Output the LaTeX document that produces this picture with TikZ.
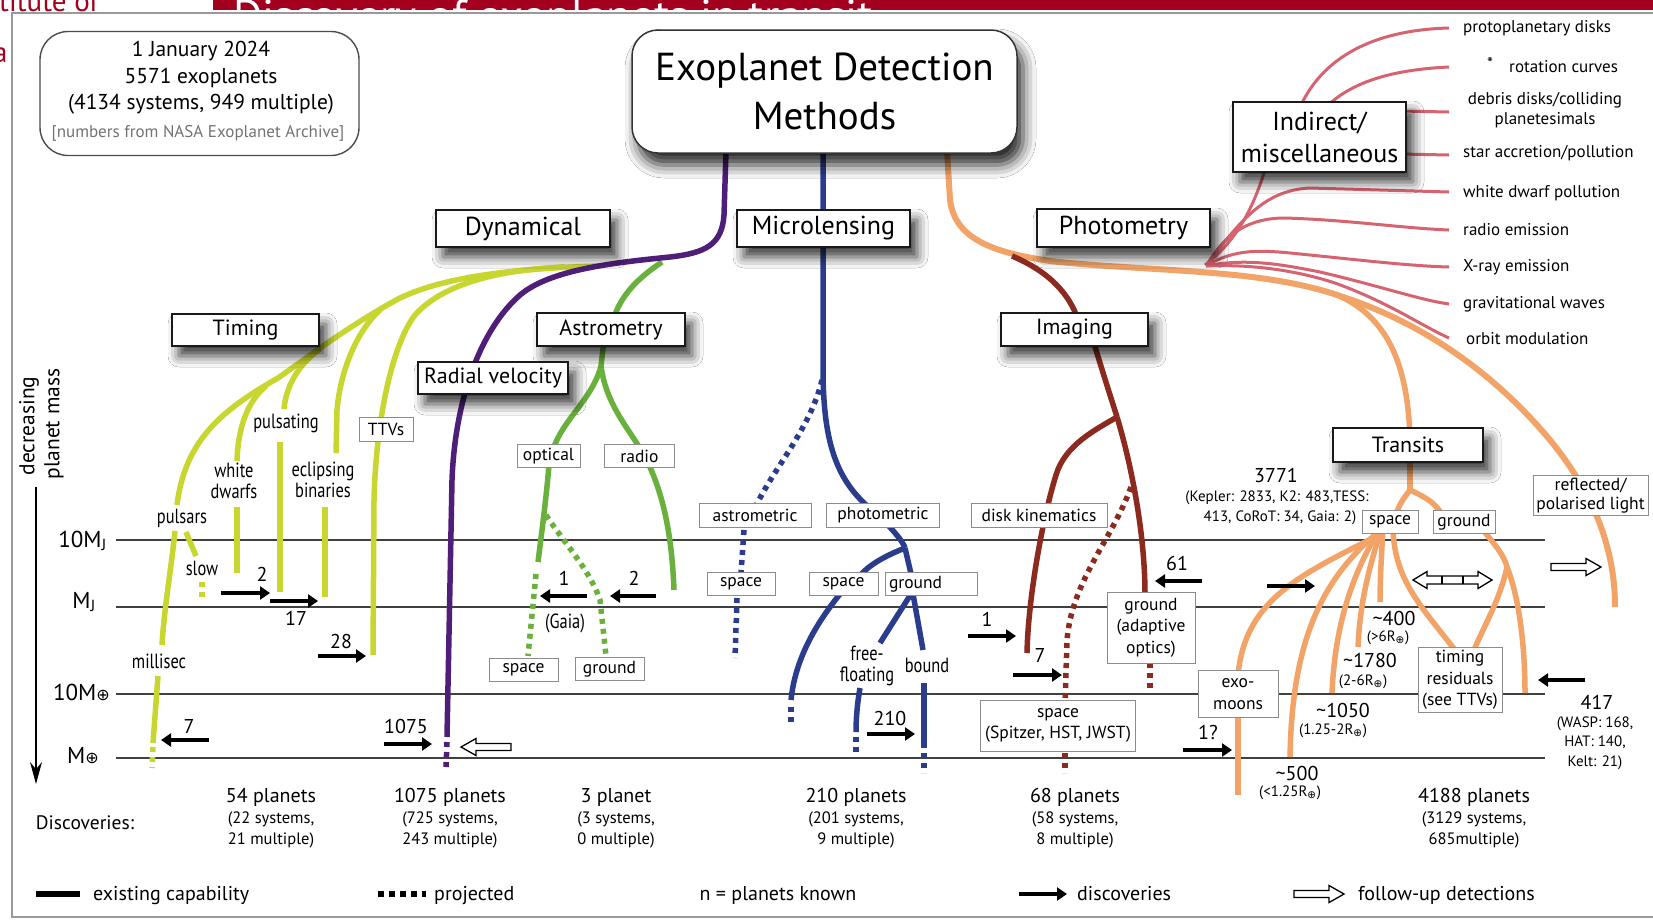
\documentclass[tikz,border=0pt]{standalone}
\usepackage{fontspec}
\setmainfont{PT Sans}
\newfontfamily\condfont[FakeStretch=0.8]{PT Sans}
\newfontfamily\symf{DejaVu Sans}
\usetikzlibrary{arrows.meta,shadows.blur}
\definecolor{yg}{RGB}{200,214,48}
\definecolor{purp}{RGB}{78,30,120}
\definecolor{grn}{RGB}{106,176,60}
\definecolor{blu}{RGB}{44,60,140}
\definecolor{brn}{RGB}{140,42,32}
\definecolor{org}{RGB}{242,164,104}
\definecolor{pnk}{RGB}{214,100,112}
\definecolor{bred}{RGB}{162,0,30}
\newcommand{\myfs}[2]{\fontsize{#1}{#2}\selectfont}
\newcommand{\Eoplus}{\textsubscript{\symf ⊕}}
\tikzset{
  catbox/.style={draw=black!90, line width=1.6pt, fill=white, inner sep=0pt, font=\myfs{26}{32}, align=center,
    blur shadow={shadow xshift=7pt, shadow yshift=-10pt, shadow blur radius=11pt, shadow opacity=78}},
  subbox/.style={catbox, font=\myfs{22}{26}},
  lbl/.style={draw=black!45, line width=0.9pt, fill=white, inner sep=0pt, font=\myfs{17.5}{21.5}, align=center},
  tl/.style={inner sep=0pt, font=\condfont\myfs{20.5}{21.5}, align=center},
  num/.style={inner sep=0pt, font=\myfs{20}{22}},
  sm/.style={inner sep=0pt, font=\myfs{15}{19.5}, align=center},
  pl/.style={inner sep=0pt, anchor=west, font=\myfs{17}{20}},
  dtext/.style={inner sep=0pt, align=center, font=\myfs{16.5}{21}},
  branch/.style={line width=5.5pt},
  proj/.style={line width=5.5pt, dash pattern=on 5pt off 5pt},
  pk/.style={pnk, line width=3pt},
  axisline/.style={line width=1.5pt, draw=black!75},
  discarrow/.style={line width=4.5pt, -{Triangle[length=10pt,width=13pt]}},
  harrow/.pic={\draw[line width=1.3pt, fill=white, line join=miter] (0,-3.5) -- (35,-3.5) -- (35,-8.5) -- (50,0) -- (35,8.5) -- (35,3.5) -- (0,3.5) -- cycle;},
}
\begin{document}
\begin{tikzpicture}[x=1pt,y=-1pt]
\useasboundingbox (0,0) rectangle (1653,919);
\fill[white] (0,0) rectangle (1653,919);
% ---- page artifacts
\fill[bred] (213,0) rectangle (1653,10);
\begin{scope}
\clip (213,0) rectangle (1653,10);
\node[anchor=base west, inner sep=0pt, text=white, font=\myfs{45}{45}] at (233,31) {Discovery of exoplanets in transit};
\end{scope}
\node[anchor=base west, inner sep=0pt, text=bred, font=\myfs{29}{29}] (inst) at (-1,11) {titute of};
\node[anchor=base west, inner sep=0pt, text=bred, font=\myfs{29}{29}] (inst2) at (-7,62) {a};
\draw[black!40, line width=2.4pt] (1653,13) -- (12,13) -- (12,917) -- (1653,917);

% ---- mass axis
\draw[axisline] (116,540) -- (1545,540);
\draw[axisline] (116,607) -- (1545,607);
\draw[axisline] (116,694) -- (1545,694);
\draw[axisline] (116,758) -- (1545,758);
\node[inner sep=0pt, anchor=east, font=\myfs{23}{23}] (mj10) at (107,541) {10M\textsubscript{J}};
\node[inner sep=0pt, anchor=east, font=\myfs{23}{23}] (mj1) at (96,602) {M\textsubscript{J}};
\node[inner sep=0pt, anchor=east, font=\myfs{23}{23}] (me10) at (110,692) {10M{\myfs{16}{16}\symf ⊕}};
\node[inner sep=0pt, anchor=east, font=\myfs{23}{23}] (me1) at (99,756) {M{\myfs{16}{16}\symf ⊕}};
\coordinate (axtop) at (36,487);
\coordinate (axbot) at (36,784);
\draw[line width=1.5pt, -{Stealth[length=22pt,width=12pt]}] (axtop) -- (axbot);
\node[inner sep=0pt, rotate=90, font=\myfs{21.5}{24}] (dec1) at (29,426) {decreasing};
\node[inner sep=0pt, rotate=90, font=\myfs{21.5}{24}] (dec2) at (54,424) {planet mass};

% ---- indirect (pink)
\draw[pk] (1205,265) .. controls (1238,240) and (1255,205) .. (1268,160);
\draw[pk] (1295,120) .. controls (1315,60) and (1370,30) .. (1449,28);
\draw[pk] (1315,120) .. controls (1340,85) and (1385,70) .. (1449,67);
\draw[pk] (1400,111) -- (1449,112);
\draw[pk] (1400,154) -- (1449,155);
\draw[pk] (1207,264) .. controls (1238,225) and (1262,190) .. (1310,188) -- (1449,192);
\draw[pk] (1207,265) .. controls (1226,232) and (1250,218) .. (1285,218) .. controls (1350,220) and (1400,228) .. (1449,230);
\draw[pk] (1206,266) .. controls (1235,248) and (1262,250) .. (1300,254) .. controls (1360,260) and (1410,266) .. (1449,267);
\draw[pk] (1206,266) .. controls (1245,258) and (1280,264) .. (1320,272) .. controls (1380,286) and (1420,300) .. (1449,304);
\draw[pk] (1206,266) .. controls (1250,264) and (1295,270) .. (1335,283) .. controls (1390,303) and (1420,325) .. (1449,338);

% ---- photometry (orange)
\draw[branch, org, line width=6pt] (947,151) -- (950,200) .. controls (955,238) and (990,252) .. (1050,261) .. controls (1150,272) and (1260,268) .. (1340,296) .. controls (1430,325) and (1500,380) .. (1550,440) .. controls (1595,495) and (1615,550) .. (1615,607);
\draw[branch, org] (1335,294) .. controls (1385,315) and (1408,360) .. (1410,440);
\draw[branch, org] (1410,455) -- (1410,490);
\draw[branch, org] (1410,490) .. controls (1404,498) and (1399,504) .. (1396,515);
\draw[branch, org] (1410,490) .. controls (1425,497) and (1436,503) .. (1442,515);
\draw[branch, org] (1383,530) .. controls (1381,560) and (1380,585) .. (1380,602);
\draw[branch, org] (1381,530) .. controls (1370,565) and (1360,600) .. (1358,647);
\draw[branch, org] (1379,530) .. controls (1355,570) and (1335,620) .. (1332,693);
\draw[branch, org] (1377,533) .. controls (1322,580) and (1292,640) .. (1290,757);
\draw[branch, org] (1375,537) .. controls (1300,575) and (1245,600) .. (1238,675);
\draw[branch, org] (1238,715) -- (1238,795);
\draw[branch, org] (1393,530) .. controls (1395,580) and (1420,605) .. (1455,650);
\draw[branch, org] (1483,530) .. controls (1495,545) and (1504,555) .. (1507,567);
\draw[branch, org] (1507,567) .. controls (1500,600) and (1482,630) .. (1474,650);
\draw[branch, org] (1507,567) .. controls (1520,600) and (1525,650) .. (1525,693);

% ---- imaging (brown)
\draw[branch, brn] (1012,256) .. controls (1050,272) and (1070,295) .. (1078,320);
\draw[branch, brn] (1093,340) .. controls (1102,370) and (1110,395) .. (1117,417);
\draw[branch, brn] (1117,417) .. controls (1095,430) and (1065,445) .. (1056,475) .. controls (1042,520) and (1028,600) .. (1027,653);
\draw[branch, brn] (1117,417) .. controls (1130,460) and (1145,530) .. (1145,595);
\draw[proj, brn] (1131,487) .. controls (1112,540) and (1072,580) .. (1067,640) -- (1065,705);
\draw[proj, brn] (1065,753) -- (1065,773);
\draw[proj, brn] (1150,663) -- (1150,688);

% ---- microlensing (blue)
\draw[branch, blu] (823,151) -- (823,375) .. controls (824,440) and (835,480) .. (872,510);
\draw[proj, blu] (822,380) .. controls (810,430) and (772,470) .. (754,510);
\draw[proj, blu] (744,530) -- (741,573);
\draw[proj, blu] (737,598) -- (735,658);
\draw[branch, blu] (888,525) .. controls (897,535) and (903,542) .. (905,548);
\draw[branch, blu] (905,548) .. controls (885,556) and (868,565) .. (858,578);
\draw[branch, blu] (905,548) -- (912,578);
\draw[branch, blu] (840,594) .. controls (815,625) and (795,660) .. (791,700);
\draw[proj, blu] (791,707) -- (791,726);
\draw[branch, blu] (911,594) -- (880,643);
\draw[branch, blu] (860,688) .. controls (857,705) and (856,720) .. (856,732);
\draw[proj, blu] (856,737) -- (856,756);
\draw[branch, blu] (913,594) -- (923,650);
\draw[branch, blu] (924,683) -- (924,748);
\draw[proj, blu] (924,753) -- (924,773);

% ---- astrometry (green)
\draw[branch, grn] (662,262) .. controls (638,278) and (616,298) .. (611,330);
\draw[branch, grn] (604,340) -- (601,366) .. controls (592,400) and (562,420) .. (553,450);
\draw[branch, grn] (601,366) .. controls (606,405) and (630,430) .. (642,452);
\draw[branch, grn] (549,465) .. controls (546,500) and (542,530) .. (538,562);
\draw[proj, grn] (536,574) -- (528,656);
\draw[proj, grn] (546,515) .. controls (562,540) and (590,570) .. (600,600) -- (606,656);
\draw[branch, grn] (649,465) .. controls (665,500) and (672,540) .. (674,590);

% ---- dynamical / timing (yellow-green)
\draw[branch, yg] (600,266) .. controls (530,268) and (450,274) .. (400,298) .. controls (350,325) and (315,352) .. (278,378) .. controls (222,410) and (185,440) .. (177,505);
\draw[branch, yg] (565,267) .. controls (490,270) and (440,287) .. (415,315) .. controls (392,345) and (376,420) .. (374,500) -- (373,655);
\draw[branch, yg] (380,310) .. controls (360,328) and (341,365) .. (337,410) -- (336,453);
\draw[branch, yg] (320,349) .. controls (300,363) and (286,385) .. (284,409);
\draw[branch, yg] (266,386) .. controls (249,400) and (238,425) .. (237,461);
\draw[branch, yg] (237,507) -- (237,573);
\draw[branch, yg] (280,442) -- (280,592);
\draw[branch, yg] (325,507) -- (325,597);
\draw[branch, yg] (175,531) .. controls (171,570) and (164,610) .. (162,645);
\draw[branch, yg] (158,676) -- (153,743);
\draw[proj, yg] (153,747) -- (152,768);
\draw[branch, yg] (186,532) -- (196,556);
\draw[proj, yg] (202,582) -- (202,601);

% ---- radial velocity (purple)
\draw[branch, purp] (726,151) -- (724,215) .. controls (722,245) and (705,253) .. (670,257) .. controls (610,263) and (550,270) .. (520,295) .. controls (480,330) and (455,400) .. (452,480) -- (447,737);
\draw[proj, purp] (447,742) -- (446,768);

% ---- info and title boxes
\node[draw=black!70, line width=1.4pt, rounded corners=28pt, minimum width=319pt, minimum height=124pt, inner sep=0pt] (info) at (199.5,93.5) {};
\node[inner sep=0pt, font=\myfs{21.5}{24}] (info1) at (201,51) {1 January 2024};
\node[inner sep=0pt, font=\myfs{21.5}{24}] (info2) at (201,78) {5571 exoplanets};
\node[inner sep=0pt, font=\myfs{21.5}{24}] (info3) at (201,104) {(4134 systems, 949 multiple)};
\node[inner sep=0pt, font=\myfs{17}{20}, text=black!55] (info4) at (198,133) {[numbers from NASA Exoplanet Archive]};

\node[draw=black!80, line width=1.5pt, rounded corners=26pt, fill=white, minimum width=385pt, minimum height=123pt, inner sep=0pt, font=\myfs{39}{49}, align=center,
  blur shadow={shadow xshift=6pt, shadow yshift=-12pt, shadow blur radius=13pt, shadow opacity=85}] (title) at (824.5,91.5) {Exoplanet Detection\\Methods};

% ---- category boxes
\node[catbox, minimum width=174pt, minimum height=37pt] (dyn) at (523,228.5) {Dynamical};
\node[catbox, minimum width=173pt, minimum height=37pt] (micro) at (823.5,228.5) {Microlensing};
\node[catbox, minimum width=173pt, minimum height=38pt] (phot) at (1123.5,228) {Photometry};
\node[catbox, minimum width=173pt, minimum height=70pt] (indir) at (1319.5,137) {Indirect/\\miscellaneous};
\node[subbox, minimum width=147pt, minimum height=32pt] (timing) at (245.5,330) {Timing};
\node[subbox, minimum width=148pt, minimum height=33pt] (astro) at (611,329.5) {Astrometry};
\node[subbox, minimum width=150pt, minimum height=32pt] (rv) at (493,378) {Radial velocity};
\node[subbox, minimum width=147pt, minimum height=33pt] (imag) at (1074.5,329.5) {Imaging};
\node[subbox, minimum width=150pt, minimum height=34pt] (trans) at (1408,445) {Transits};

% ---- small label boxes
\node[lbl, minimum width=54pt, minimum height=24pt] (ttvs) at (386,429) {TTVs};
\node[lbl, minimum width=63pt, minimum height=23pt] (optical) at (548.5,456) {optical};
\node[lbl, minimum width=70pt, minimum height=23pt] (radio) at (639.5,456) {radio};
\node[lbl, minimum width=112pt, minimum height=24pt] (amet) at (755,515.5) {astrometric};
\node[lbl, minimum width=113pt, minimum height=24pt] (pmet) at (883,515.5) {photometric};
\node[lbl, minimum width=136pt, minimum height=24pt] (diskk) at (1039,515.5) {disk kinematics};
\node[lbl, minimum width=68pt, minimum height=23pt] (spA) at (741,584) {space};
\node[lbl, minimum width=69pt, minimum height=23pt] (spB) at (843.5,584) {space};
\node[lbl, minimum width=92pt, minimum height=23pt, text width=84pt, align=left] (grB) at (931,584) {ground};
\node[lbl, minimum width=69pt, minimum height=23pt] (spC) at (523.5,670) {space};
\node[lbl, minimum width=69pt, minimum height=23pt] (grC) at (609.5,669) {ground};
\node[lbl, minimum width=88pt, minimum height=71pt] (grAO) at (1151,627.5) {ground\\(adaptive\\optics)};
\node[lbl, minimum width=155pt, minimum height=51pt] (spJ) at (1058,725.5) {space\\(Spitzer, HST, JWST)};
\node[lbl, minimum width=80pt, minimum height=47pt] (exom) at (1238,694) {exo-\\moons};
\node[lbl, minimum width=84pt, minimum height=65pt] (timres) at (1460,680) {timing\\residuals\\(see TTVs)};
\node[lbl, minimum width=56pt, minimum height=23pt] (spT) at (1390,522) {space};
\node[lbl, minimum width=62pt, minimum height=23pt] (grT) at (1464,522) {ground};
\node[lbl, minimum width=115pt, minimum height=40pt, font=\myfs{17.5}{19.5}] (refl) at (1590.5,495.5) {reflected/\\polarised light};

% ---- tree labels
\node[tl] (lpulsating) at (286,423) {pulsating};
\node[tl] (lwd) at (234,481) {white\\dwarfs};
\node[tl] (lecl) at (323,480) {eclipsing\\binaries};
\node[tl] (lpulsars) at (182,518) {pulsars};
\node[tl] (lslow) at (202,568) {slow};
\node[tl] (lmilli) at (159,661) {millisec};
\node[tl] (lgaia) at (565,623) {(Gaia)};
\node[tl] (lfree) at (867,666) {free-\\floating};
\node[tl] (lbound) at (927,665) {bound};

% ---- pink labels
\node[pl] (t1) at (1463,28) {protoplanetary disks};
\node[pl] (t2a) at (1487,63) {*};
\node[pl] (t2) at (1509,67) {rotation curves};
\node[pl, align=center, anchor=center, font=\myfs{17}{20.5}] (t3) at (1545,110) {debris disks/colliding\\planetesimals};
\node[pl] (t4) at (1463,153) {star accretion/pollution};
\node[pl] (t5) at (1463,193) {white dwarf pollution};
\node[pl] (t6) at (1463,230) {radio emission};
\node[pl] (t7) at (1463,267) {X-ray emission};
\node[pl] (t8) at (1463,304) {gravitational waves};
\node[pl] (t9) at (1466,339) {orbit modulation};

% ---- discovery arrows
\draw[discarrow] (221,593) -- (270,593);
\draw[discarrow] (270,601) -- (318,601);
\draw[discarrow] (318,656) -- (366,656);
\draw[discarrow] (209,740) -- (161,740);
\draw[discarrow] (384,744) -- (432,744);
\draw[discarrow] (587,596) -- (540,596);
\draw[discarrow] (656,596) -- (610,596);
\draw[discarrow] (867,734) -- (915,734);
\draw[discarrow] (968,636) -- (1016,636);
\draw[discarrow] (1013,675) -- (1062,675);
\draw[discarrow] (1202,581) -- (1155,581);
\draw[discarrow] (1267,586) -- (1315,586);
\draw[discarrow] (1183,750) -- (1232,750);
\draw[discarrow] (1585,680) -- (1538,680);
\pic[xscale=-1] at (511,747) {harrow};
\pic at (1551,567) {harrow};
\draw[line width=1.3pt, fill=white, line join=miter] (1413,580) -- (1427,571.5) -- (1427,576) -- (1478,576) -- (1478,571.5) -- (1492,580) -- (1478,588.5) -- (1478,584) -- (1427,584) -- (1427,588.5) -- cycle;
\draw[line width=1.1pt] (1442,576) -- (1442,584) (1463,576) -- (1463,584);

% ---- numbers
\node[num] (n2a) at (262,574) {2};
\node[num] (n17) at (296,618) {17};
\node[num] (n28) at (341,641) {28};
\node[num] (n7a) at (189,726) {7};
\node[num] (n1075) at (406,726) {1075};
\node[num] (n1a) at (564,578) {1};
\node[num] (n2b) at (634,578) {2};
\node[num] (n210) at (890,718) {210};
\node[num] (n1b) at (987,619) {1};
\node[num] (n7b) at (1040,655) {7};
\node[num] (n61) at (1177,563) {61};
\node[num] (n3771) at (1276,475) {3771};
\node[sm] (kep) at (1277,508) {(Kepler: 2833, K2: 483,TESS:\\\hspace*{6pt}413, CoRoT: 34, Gaia: 2)};
\node[num] (n1q) at (1208,732) {1?};
\node[num] (n400) at (1394,618) {\textasciitilde400};
\node[sm] (r400) at (1388,638) {(>6R\Eoplus)};
\node[num] (n1780) at (1370,660) {\textasciitilde1780};
\node[sm] (r1780) at (1363,682) {(2-6R\Eoplus)};
\node[num] (n1050) at (1343,710) {\textasciitilde1050};
\node[sm] (r1050) at (1333,731) {(1.25-2R\Eoplus)};
\node[num] (n500) at (1297,773) {\textasciitilde500};
\node[sm] (r500) at (1290,793) {(<1.25R\Eoplus)};
\node[num] (n417) at (1597,702) {417};
\node[sm] (w417) at (1595,743) {(WASP: 168,\\HAT: 140,\\Kelt: 21)};

% ---- discoveries
\node[inner sep=0pt, font=\myfs{19.5}{22}] (discov) at (85,823) {Discoveries:};
\node[dtext] (d1) at (271,818) {{\myfs{20}{21}54 planets}\\(22 systems,\\21 multiple)};
\node[dtext] (d2) at (450,818) {{\myfs{20}{21}1075 planets}\\(725 systems,\\243 multiple)};
\node[dtext] (d3) at (616,818) {{\myfs{20}{21}3 planet}\\(3 systems,\\0 multiple)};
\node[dtext] (d4) at (856,818) {{\myfs{20}{21}210 planets}\\(201 systems,\\9 multiple)};
\node[dtext] (d5) at (1075,818) {{\myfs{20}{21}68 planets}\\(58 systems,\\8 multiple)};
\node[dtext] (d6) at (1474,818) {{\myfs{20}{21}4188 planets}\\(3129 systems,\\685multiple)};

% ---- legend
\draw[line width=6pt] (36,894) -- (80,894);
\node[inner sep=0pt, anchor=base west, font=\myfs{20}{22}] (lg1) at (93,900) {existing capability};
\draw[line width=6pt, dash pattern=on 6pt off 5pt] (378,894) -- (426,894);
\node[inner sep=0pt, anchor=base west, font=\myfs{20}{22}] (lg2) at (434,900) {projected};
\node[inner sep=0pt, anchor=base, font=\myfs{20}{22}] (lg3) at (778,900) {n = planets known};
\draw[discarrow] (1019,894) -- (1067,894);
\node[inner sep=0pt, anchor=base west, font=\myfs{20}{22}] (lg4) at (1077,900) {discoveries};
\pic at (1294,894) {harrow};
\node[inner sep=0pt, anchor=base west, font=\myfs{20}{22}] (lg5) at (1358,900) {follow-up detections};
\end{tikzpicture}
\end{document}
